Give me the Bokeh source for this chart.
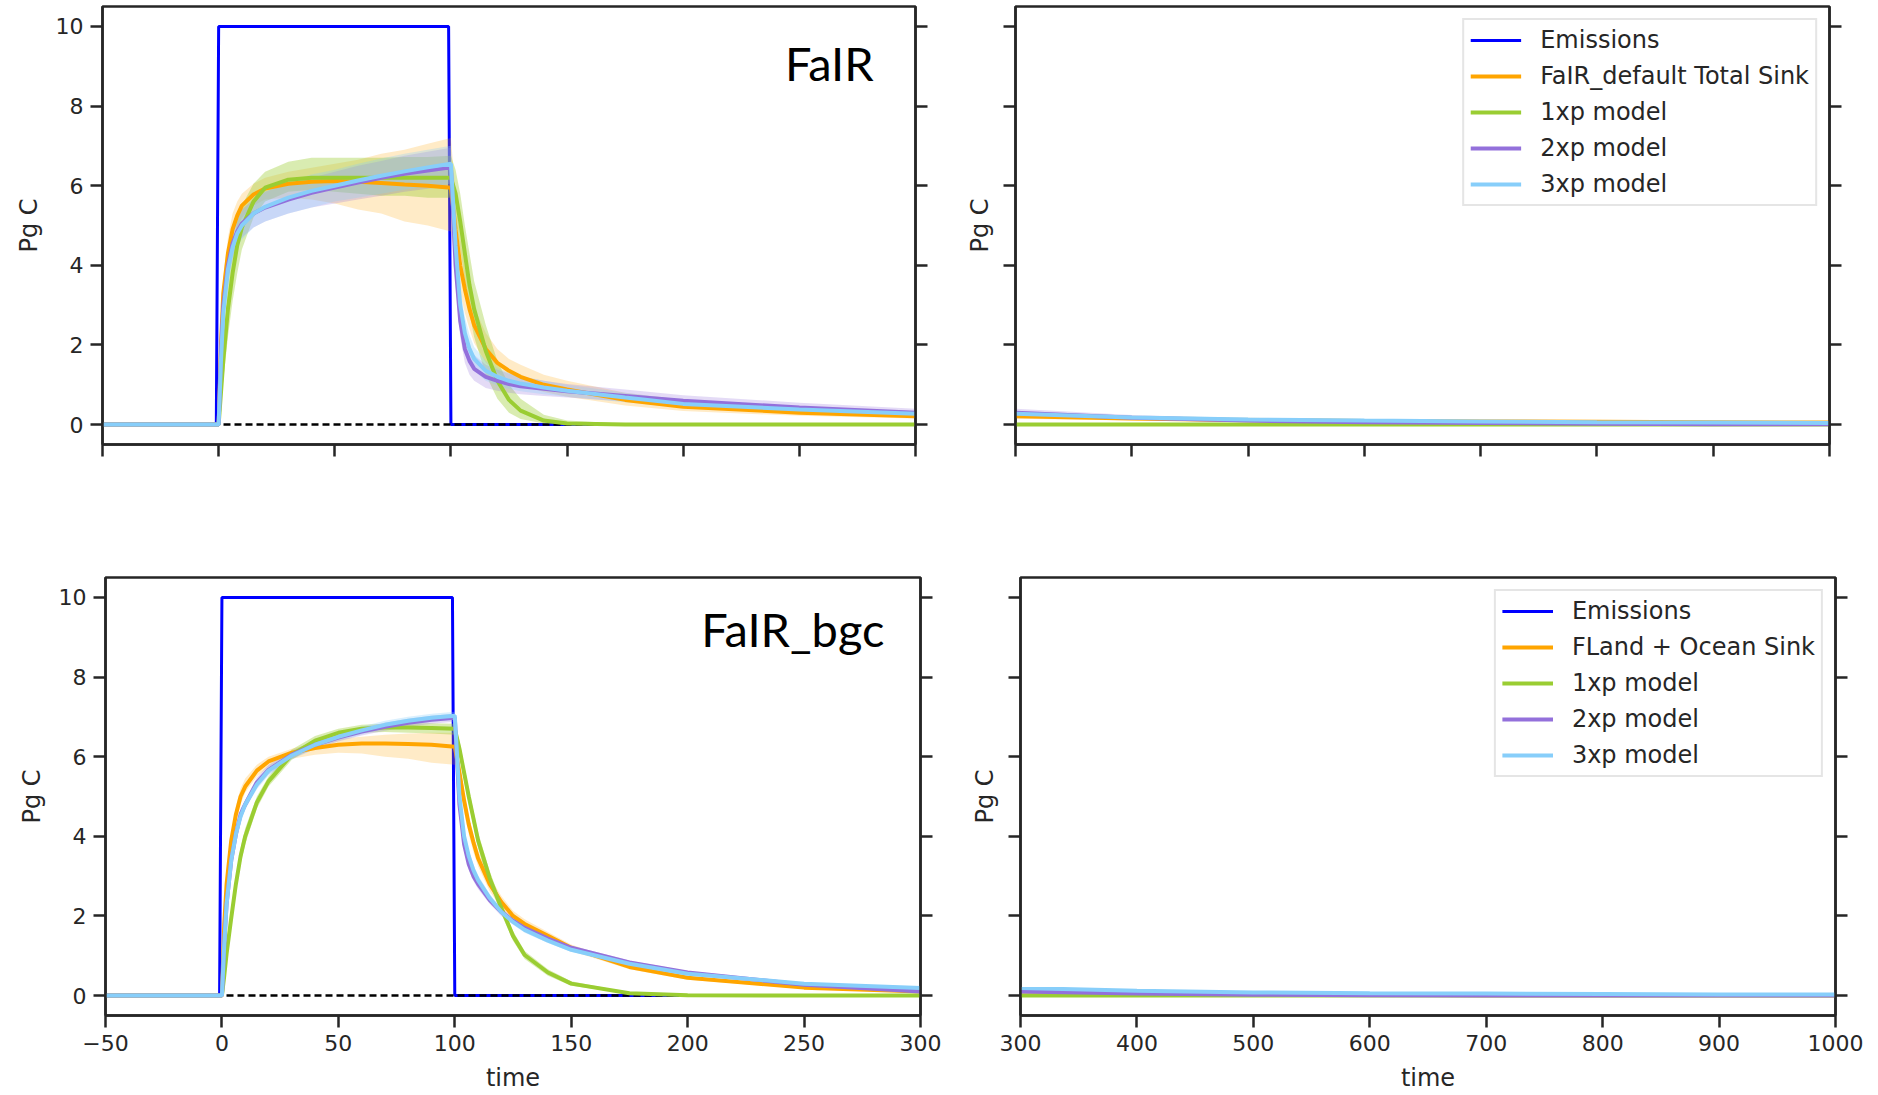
from bokeh.plotting import figure
from bokeh.models import Range1d, LinearAxis, Legend, LegendItem, Label, FixedTicker
from bokeh.layouts import column, row
from bokeh.embed import file_html
from bokeh.resources import INLINE

# ---------------- data ----------------
time = [-50, 0, 1, 2, 4, 6, 8, 10, 15, 20, 30, 40, 50, 60, 70, 80, 90, 100,
        102, 104, 106, 108, 110, 115, 120, 125, 130, 140, 150, 175, 200, 250, 300,
        400, 500, 600, 700, 800, 900, 1000]

em_time = [-50, -1, 0, 99, 100, 1000]
em_vals = [0, 0, 10, 10, 0, 0]
zero_time = [-50, 1000]
zero_vals = [0, 0]

# ---- FaIR (top row) ----
fair_sink = [0, 0, 2.0, 3.3, 4.3, 4.9, 5.25, 5.5, 5.78, 5.93, 6.05, 6.1, 6.12, 6.1, 6.07, 6.03, 6.0, 5.95,
             4.9, 4.0, 3.4, 2.9, 2.5, 1.9, 1.55, 1.35, 1.2, 1.0, 0.88, 0.62, 0.45, 0.3, 0.21,
             0.15, 0.11, 0.09, 0.08, 0.07, 0.06, 0.05]
fair_sink_lo = [0, 0, 1.6, 2.8, 3.8, 4.5, 4.9, 5.2, 5.5, 5.65, 5.7, 5.65, 5.55, 5.4, 5.3, 5.1, 5.0, 4.85,
                4.0, 3.3, 2.8, 2.4, 2.05, 1.55, 1.3, 1.12, 1.0, 0.82, 0.7, 0.48, 0.34, 0.22, 0.15,
                0.1, 0.07, 0.05, 0.04, 0.03, 0.02, 0.02]
fair_sink_hi = [0, 0, 2.4, 3.7, 4.7, 5.3, 5.6, 5.8, 6.05, 6.2, 6.35, 6.45, 6.55, 6.65, 6.8, 6.9, 7.05, 7.2,
                5.8, 4.7, 4.0, 3.4, 2.95, 2.3, 1.9, 1.65, 1.5, 1.25, 1.1, 0.8, 0.62, 0.42, 0.32,
                0.22, 0.17, 0.14, 0.12, 0.1, 0.09, 0.08]

fair_1xp = [0, 0, 0.8, 1.6, 2.9, 3.8, 4.5, 4.95, 5.6, 5.95, 6.15, 6.2, 6.2, 6.2, 6.2, 6.2, 6.2, 6.2,
            5.8, 5.1, 4.3, 3.5, 2.9, 1.85, 1.1, 0.62, 0.35, 0.1, 0.03, 0, 0, 0, 0,
            0, 0, 0, 0, 0, 0, 0]
fair_1xp_lo = [0, 0, 0.5, 1.1, 2.2, 3.1, 3.8, 4.4, 5.2, 5.6, 5.85, 5.9, 5.85, 5.8, 5.75, 5.75, 5.7, 5.7,
               5.2, 4.4, 3.6, 2.8, 2.2, 1.25, 0.65, 0.3, 0.14, 0.03, 0, 0, 0, 0, 0,
               0, 0, 0, 0, 0, 0, 0]
fair_1xp_hi = [0, 0, 1.1, 2.1, 3.6, 4.5, 5.1, 5.5, 6.05, 6.35, 6.6, 6.7, 6.7, 6.7, 6.7, 6.72, 6.72, 6.75,
               6.4, 5.8, 5.0, 4.3, 3.6, 2.5, 1.6, 1.0, 0.65, 0.25, 0.1, 0.02, 0, 0, 0,
               0, 0, 0, 0, 0, 0, 0]

fair_2xp = [0, 0, 1.8, 3.0, 4.0, 4.55, 4.85, 5.05, 5.3, 5.45, 5.65, 5.82, 5.95, 6.08, 6.2, 6.3, 6.38, 6.46,
            4.0, 2.6, 1.9, 1.6, 1.4, 1.2, 1.1, 1.02, 0.96, 0.9, 0.84, 0.72, 0.6, 0.43, 0.3,
            0.17, 0.1, 0.06, 0.04, 0.02, 0.01, 0.01]
fair_2xp_lo = [0, 0, 1.4, 2.6, 3.6, 4.2, 4.5, 4.7, 4.95, 5.1, 5.3, 5.45, 5.55, 5.65, 5.75, 5.85, 5.92, 6.0,
               3.5, 2.2, 1.55, 1.25, 1.1, 0.92, 0.85, 0.8, 0.76, 0.72, 0.68, 0.58, 0.48, 0.33, 0.22,
               0.12, 0.06, 0.03, 0.02, 0.01, 0, 0]
fair_2xp_hi = [0, 0, 2.2, 3.4, 4.4, 4.9, 5.2, 5.4, 5.65, 5.85, 6.05, 6.2, 6.35, 6.5, 6.62, 6.75, 6.85, 6.95,
               4.6, 3.1, 2.3, 1.95, 1.75, 1.5, 1.38, 1.28, 1.2, 1.1, 1.02, 0.88, 0.74, 0.55, 0.4,
               0.24, 0.15, 0.1, 0.07, 0.05, 0.04, 0.03]

fair_3xp = [0, 0, 1.6, 2.8, 3.9, 4.45, 4.8, 5.0, 5.3, 5.47, 5.7, 5.87, 6.0, 6.13, 6.25, 6.36, 6.46, 6.55,
            4.5, 3.0, 2.3, 1.9, 1.65, 1.35, 1.2, 1.1, 1.03, 0.93, 0.85, 0.68, 0.52, 0.38, 0.27,
            0.18, 0.13, 0.1, 0.08, 0.06, 0.05, 0.04]
fair_3xp_lo = [0, 0, 1.2, 2.4, 3.5, 4.1, 4.45, 4.65, 4.95, 5.1, 5.3, 5.45, 5.6, 5.7, 5.8, 5.9, 5.98, 6.05,
               4.0, 2.6, 1.9, 1.55, 1.35, 1.1, 0.98, 0.9, 0.84, 0.76, 0.7, 0.56, 0.43, 0.3, 0.2,
               0.13, 0.09, 0.07, 0.05, 0.04, 0.03, 0.03]
fair_3xp_hi = [0, 0, 2.0, 3.2, 4.3, 4.8, 5.15, 5.35, 5.65, 5.85, 6.1, 6.28, 6.4, 6.55, 6.68, 6.8, 6.9, 7.0,
               5.0, 3.4, 2.7, 2.25, 1.95, 1.6, 1.42, 1.3, 1.22, 1.1, 1.0, 0.8, 0.62, 0.46, 0.34,
               0.23, 0.17, 0.13, 0.1, 0.08, 0.07, 0.06]

# ---- FaIR_bgc (bottom row) ----
bgc_sink = [0, 0, 1.8, 2.8, 3.9, 4.55, 5.0, 5.25, 5.65, 5.88, 6.1, 6.22, 6.3, 6.33, 6.33, 6.32, 6.3, 6.25,
            5.6, 4.9, 4.3, 3.85, 3.45, 2.8, 2.35, 2.0, 1.8, 1.5, 1.2, 0.72, 0.45, 0.2, 0.1,
            0.05, 0.03, 0.02, 0.01, 0.01, 0.01, 0.01]
bgc_sink_lo = [0, 0, 1.6, 2.6, 3.7, 4.35, 4.8, 5.1, 5.5, 5.75, 5.95, 6.05, 6.1, 6.08, 6.0, 5.95, 5.85, 5.8,
               5.2, 4.6, 4.05, 3.6, 3.25, 2.62, 2.2, 1.87, 1.68, 1.4, 1.12, 0.66, 0.4, 0.17, 0.08,
               0.04, 0.02, 0.01, 0, 0, 0, 0]
bgc_sink_hi = [0, 0, 2.0, 3.0, 4.1, 4.75, 5.2, 5.45, 5.8, 6.0, 6.2, 6.35, 6.45, 6.5, 6.55, 6.58, 6.6, 6.6,
               5.9, 5.15, 4.5, 4.05, 3.65, 2.98, 2.5, 2.13, 1.92, 1.6, 1.28, 0.78, 0.5, 0.23, 0.12,
               0.06, 0.04, 0.03, 0.02, 0.02, 0.01, 0.01]

bgc_1xp = [0, 0, 0.5, 1.05, 1.95, 2.8, 3.5, 4.0, 4.85, 5.38, 6.05, 6.4, 6.6, 6.7, 6.73, 6.73, 6.72, 6.7,
           6.2, 5.6, 5.0, 4.45, 3.9, 2.95, 2.2, 1.5, 1.02, 0.58, 0.3, 0.06, 0.01, 0, 0,
           0, 0, 0, 0, 0, 0, 0]
bgc_1xp_lo = [0, 0, 0.4, 0.9, 1.8, 2.6, 3.3, 3.8, 4.7, 5.25, 5.92, 6.28, 6.5, 6.6, 6.62, 6.6, 6.58, 6.55,
              6.0, 5.4, 4.8, 4.25, 3.7, 2.78, 2.05, 1.38, 0.92, 0.5, 0.25, 0.04, 0, 0, 0,
              0, 0, 0, 0, 0, 0, 0]
bgc_1xp_hi = [0, 0, 0.6, 1.2, 2.1, 3.0, 3.7, 4.2, 5.0, 5.5, 6.18, 6.52, 6.7, 6.8, 6.83, 6.84, 6.84, 6.83,
              6.4, 5.8, 5.2, 4.65, 4.1, 3.12, 2.35, 1.62, 1.12, 0.66, 0.36, 0.08, 0.02, 0, 0,
              0, 0, 0, 0, 0, 0, 0]

bgc_2xp = [0, 0, 1.3, 2.3, 3.4, 4.05, 4.55, 4.8, 5.35, 5.67, 6.05, 6.3, 6.48, 6.63, 6.75, 6.85, 6.93, 6.98,
           4.8, 3.8, 3.3, 3.0, 2.8, 2.4, 2.1, 1.88, 1.7, 1.43, 1.2, 0.83, 0.58, 0.27, 0.1,
           0.05, 0.02, 0.01, 0, 0, 0, 0]
bgc_2xp_lo = [0, 0, 1.2, 2.15, 3.25, 3.9, 4.4, 4.68, 5.22, 5.55, 5.95, 6.2, 6.38, 6.53, 6.65, 6.75, 6.83, 6.88,
              4.6, 3.65, 3.15, 2.88, 2.68, 2.3, 2.0, 1.8, 1.62, 1.36, 1.14, 0.78, 0.54, 0.24, 0.08,
              0.03, 0.01, 0, 0, 0, 0, 0]
bgc_2xp_hi = [0, 0, 1.4, 2.45, 3.55, 4.2, 4.7, 4.92, 5.48, 5.8, 6.15, 6.4, 6.58, 6.73, 6.85, 6.95, 7.03, 7.08,
              5.0, 3.95, 3.45, 3.12, 2.92, 2.5, 2.2, 1.96, 1.78, 1.5, 1.26, 0.88, 0.62, 0.3, 0.12,
              0.06, 0.03, 0.02, 0.01, 0, 0, 0]

bgc_3xp = [0, 0, 1.3, 2.3, 3.4, 4.05, 4.5, 4.8, 5.3, 5.65, 6.03, 6.3, 6.5, 6.66, 6.8, 6.9, 6.98, 7.03,
           5.0, 4.0, 3.5, 3.15, 2.9, 2.45, 2.1, 1.85, 1.65, 1.38, 1.15, 0.8, 0.55, 0.3, 0.19,
           0.12, 0.08, 0.06, 0.05, 0.04, 0.03, 0.03]
bgc_3xp_lo = [0, 0, 1.2, 2.15, 3.25, 3.9, 4.35, 4.68, 5.18, 5.53, 5.93, 6.2, 6.4, 6.56, 6.7, 6.8, 6.88, 6.93,
              4.8, 3.85, 3.35, 3.02, 2.78, 2.35, 2.02, 1.78, 1.58, 1.32, 1.1, 0.76, 0.52, 0.27, 0.17,
              0.1, 0.07, 0.05, 0.04, 0.03, 0.02, 0.02]
bgc_3xp_hi = [0, 0, 1.4, 2.45, 3.55, 4.2, 4.65, 4.92, 5.42, 5.77, 6.13, 6.4, 6.6, 6.76, 6.9, 7.0, 7.08, 7.13,
              5.2, 4.15, 3.65, 3.28, 3.02, 2.55, 2.18, 1.92, 1.72, 1.44, 1.2, 0.84, 0.58, 0.33, 0.21,
              0.14, 0.1, 0.08, 0.06, 0.05, 0.04, 0.04]

labels_top = ["Emissions", "FaIR_default Total Sink", "1xp model", "2xp model", "3xp model"]
labels_bottom = ["Emissions", "FLand + Ocean Sink", "1xp model", "2xp model", "3xp model"]
left_xticks = [-50, 0, 50, 100, 150, 200, 250, 300]
right_xticks = [300, 400, 500, 600, 700, 800, 900, 1000]
yticks = [0, 2, 4, 6, 8, 10]

# ---------------- styling ----------------
INK = "#262626"
FONT = "DejaVu Sans"
C_EM, C_SINK, C_1, C_2, C_3 = "#0000ff", "#ffa500", "#9acd32", "#9370db", "#87cefa"
BAND_ALPHA = [0.22, 0.38, 0.25, 0.3]


def style_axis(ax, ticks, show_labels):
    ax.ticker = FixedTicker(ticks=ticks)
    ax.axis_line_color = INK
    ax.axis_line_width = 2.5
    ax.major_tick_line_color = INK
    ax.major_tick_line_width = 2.5
    ax.major_tick_out = 12
    ax.major_tick_in = 0
    ax.minor_tick_line_color = None
    ax.major_label_text_font = FONT
    ax.major_label_text_font_size = "22px"
    ax.major_label_text_color = INK
    ax.major_label_standoff = 7
    ax.axis_label_text_font = FONT
    ax.axis_label_text_font_size = "24px"
    ax.axis_label_text_font_style = "normal"
    ax.axis_label_text_color = INK
    ax.axis_label_standoff = 10
    if not show_labels:
        ax.major_label_overrides = {t: "" for t in ticks}
        ax.major_label_standoff = 0


def panel(xr, xticks, series, show_xlabels, show_ylabels, borders, fw, fh,
          legend_labels=None, tag=None):
    mbl, mbr, mbt, mbb = borders
    p = figure(frame_width=fw, frame_height=fh, x_range=Range1d(*xr),
               y_range=Range1d(-0.5, 10.5), output_backend="svg",
               toolbar_location=None, min_border_left=mbl, min_border_right=mbr,
               min_border_top=mbt, min_border_bottom=mbb)
    p.grid.visible = False
    p.outline_line_color = INK
    p.outline_line_width = 2.5
    p.outline_line_alpha = 1.0
    p.background_fill_color = "white"
    p.border_fill_color = "white"

    style_axis(p.xaxis[0], xticks, show_xlabels)
    style_axis(p.yaxis[0], yticks, show_ylabels)
    p.yaxis[0].axis_label = "Pg C"
    if show_xlabels:
        p.xaxis[0].axis_label = "time"
    right = LinearAxis()
    style_axis(right, yticks, False)
    p.add_layout(right, "right")

    r_em = p.line(em_time, em_vals, line_color=C_EM, line_width=3)
    p.line(zero_time, zero_vals, line_color="black", line_width=2.5, line_dash="7 4")

    colors = [C_SINK, C_1, C_2, C_3]
    for (mean, lo, hi), c, a in zip(series, colors, BAND_ALPHA):
        p.varea(x=time, y1=lo, y2=hi, fill_color=c, fill_alpha=a)
    rends = [r_em]
    for (mean, lo, hi), c in zip(series, colors):
        rends.append(p.line(time, mean, line_color=c, line_width=4))

    if tag is not None:
        txt, tx, ty = tag
        p.add_layout(Label(x=tx, y=ty, text=txt, text_font="Lato", text_font_size="47px",
                           text_align="right", text_baseline="alphabetic", text_color="black"))

    if legend_labels is not None:
        items = [LegendItem(label=lab, renderers=[r]) for lab, r in zip(legend_labels, rends)]
        leg = Legend(items=items, location="top_right", margin=12, padding=6, spacing=8,
                     glyph_width=51, glyph_height=28, label_height=28, label_standoff=19,
                     label_text_font=FONT, label_text_font_size="24px", label_text_color=INK,
                     border_line_color="#cccccc", border_line_width=2,
                     background_fill_color="white", background_fill_alpha=1.0)
        p.add_layout(leg)
    return p


top_series = [(fair_sink, fair_sink_lo, fair_sink_hi), (fair_1xp, fair_1xp_lo, fair_1xp_hi),
              (fair_2xp, fair_2xp_lo, fair_2xp_hi), (fair_3xp, fair_3xp_lo, fair_3xp_hi)]
bot_series = [(bgc_sink, bgc_sink_lo, bgc_sink_hi), (bgc_1xp, bgc_1xp_lo, bgc_1xp_hi),
              (bgc_2xp, bgc_2xp_lo, bgc_2xp_hi), (bgc_3xp, bgc_3xp_lo, bgc_3xp_hi)]

p1 = panel((-50, 300), left_xticks, top_series, False, True, (102, 20, 6, 123), 813, 438,
           tag=("FaIR", 282, 9.07))
p2 = panel((300, 1000), right_xticks, top_series, False, False, (80, 22, 6, 123), 814, 438,
           legend_labels=labels_top)
p3 = panel((-50, 300), left_xticks, bot_series, True, True, (105, 24, 10, 78), 815, 438,
           tag=("FaIR_bgc", 284.5, 9.2))
p4 = panel((300, 1000), right_xticks, bot_series, True, False, (76, 30, 10, 78), 815, 438,
           legend_labels=labels_bottom)

layout = column(row(p1, p2), row(p3, p4))
open("out.html", "w").write(file_html(layout, INLINE))
